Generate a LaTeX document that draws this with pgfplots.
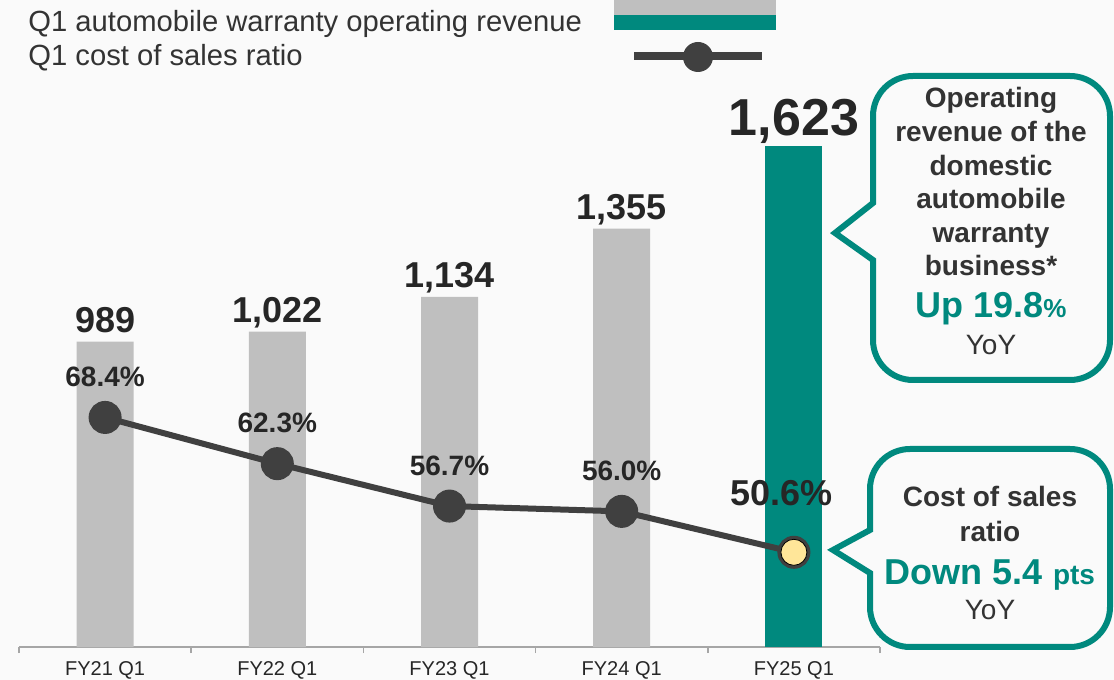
\documentclass[border=0pt]{standalone}
\usepackage{pgfplots}
\pgfplotsset{compat=1.18}
\usepackage{fontspec}
\setmainfont{Liberation Sans}

\definecolor{bg}{HTML}{FAFAFA}
\definecolor{bargray}{HTML}{BFBFBF}
\definecolor{teal}{HTML}{00897E}
\definecolor{linegray}{HTML}{404040}
\definecolor{dotyellow}{HTML}{FFE699}
\definecolor{dark}{HTML}{262626}
\definecolor{txt}{HTML}{333333}
\definecolor{axisgray}{HTML}{A6A6A6}

\newcommand{\fs}[1]{\fontsize{#1}{1.2\dimexpr#1pt\relax}\selectfont}

\begin{document}
\begin{tikzpicture}
\useasboundingbox (0,0) rectangle (557pt,340pt);
\fill[bg] (0,0) rectangle (557pt,340pt);

% revenue bars
\begin{axis}[
    at={(9.5pt,16.5pt)}, anchor=south west,
    scale only axis, width=430.5pt, height=323.5pt,
    xmin=-0.5, xmax=4.5, ymin=0, ymax=2096,
    clip=false,
    axis x line*=bottom, axis y line=none,
    x axis line style={draw=axisgray, line width=0.75pt, -},
    xtick={0,...,4},
    xticklabels={FY21 Q1,FY22 Q1,FY23 Q1,FY24 Q1,FY25 Q1},
    xtick style={/pgfplots/major tick length=0pt},
    extra x ticks={-0.5,0.5,...,4.5},
    extra x tick labels={},
    extra x tick style={
        tick align=outside,
        xtick style={/pgfplots/major tick length=3pt, draw=axisgray, line width=0.75pt},
    },
    xticklabel style={font=\fs{10}, text=dark, yshift=-3.5pt},
    /pgf/number format/assume math mode=true,
]
\addplot[ybar, bar width=28.5pt, bar shift=0pt, fill=bargray, draw=none,
    nodes near coords,
    every node near coord/.append style={font=\bfseries\fs{18}, text=dark, anchor=base, yshift=4.5pt}]
    coordinates {(0,989)(1,1022)(2,1134)(3,1355)};
\addplot[ybar, bar width=28.5pt, bar shift=0pt, fill=teal, draw=none,
    nodes near coords,
    every node near coord/.append style={font=\bfseries\fs{26}, text=dark, anchor=base, yshift=5.5pt}]
    coordinates {(4,1623)};
\end{axis}

% cost of sales ratio
\begin{axis}[
    at={(9.5pt,16.5pt)}, anchor=south west,
    scale only axis, width=430.5pt, height=323.5pt,
    xmin=-0.5, xmax=4.5, ymin=38.1, ymax=123.5,
    hide axis, clip=false,
    /pgf/number format/assume math mode=true,
]
\addplot[line width=3pt, color=linegray, mark=*, mark size=6.75pt,
    mark options={draw=none, fill=linegray}]
    coordinates {(0,68.4)(1,62.3)(2,56.7)(3,56.0)(4,50.6)};
\addplot[draw=none, mark=none,
    nodes near coords={\pgfmathprintnumber[fixed,fixed zerofill,precision=1]{\pgfplotspointmeta}\%},
    every node near coord/.append style={font=\bfseries\fs{14}, text=dark, anchor=base, yshift=15.5pt}]
    coordinates {(0,68.4)(1,62.3)(2,56.7)(3,56.0)};
\addplot[only marks, mark=*, mark size=6.5pt,
    mark options={draw=none, fill=dotyellow},
    nodes near coords={\pgfmathprintnumber[fixed,fixed zerofill,precision=1]{\pgfplotspointmeta}\%},
    every node near coord/.append style={font=\bfseries\fs{18}, text=dark, anchor=base, yshift=23.5pt, xshift=-6pt}]
    coordinates {(4,50.6)};
\end{axis}

% legend and callouts, in pixel units of the reference
\begin{scope}[x=0.5pt, y=-0.5pt, yshift=340pt]
  \node[anchor=base west, inner sep=0, font=\fs{14.6}, text=txt] at (28,32) {Q1 automobile warranty operating revenue};
  \node[anchor=base west, inner sep=0, font=\fs{14.6}, text=txt] at (28,66) {Q1 cost of sales ratio};
  \fill[bargray] (614,0) rectangle (776,15);
  \fill[teal] (614,15) rectangle (776,30);
  \draw[linegray, line width=4pt] (634,56) -- (762,56);
  \fill[linegray] (698,57) circle[radius=15];

  \draw[teal, line width=3pt, fill=bg, line join=miter]
    (835,233) -- (873,203) [rounded corners=20pt] -- (873,76) -- (1110,76) -- (1110,380) -- (873,380) [sharp corners] -- (873,260) -- cycle;
  \begin{scope}[every node/.style={anchor=base, inner sep=0, font=\bfseries\fs{14}, text=txt}]
    \node at (991,108) {Operating};
    \node at (991,142) {revenue of the};
    \node at (991,176) {domestic};
    \node at (991,209) {automobile};
    \node at (991,243) {warranty};
    \node at (991,276) {business*};
    \node[text=teal] at (991,318) {\fs{18}Up 19.8{\fs{13}\%}};
    \node[font=\fs{14}] at (991,355) {YoY};
  \end{scope}

  \draw[teal, line width=3pt, fill=bg, line join=miter]
    (833,550) -- (870,530) [rounded corners=20pt] -- (870,449) -- (1110,449) -- (1110,647) -- (870,647) [sharp corners] -- (870,573) -- cycle;
  \begin{scope}[every node/.style={anchor=base, inner sep=0, font=\bfseries\fs{14}, text=txt}]
    \node at (990,507) {Cost of sales};
    \node at (990,542) {ratio};
    \node[text=teal] at (990,585) {\fs{18}Down 5.4 {\fs{14}pts}};
    \node[font=\fs{14}] at (990,620) {YoY};
  \end{scope}
\end{scope}
\end{tikzpicture}
\end{document}
